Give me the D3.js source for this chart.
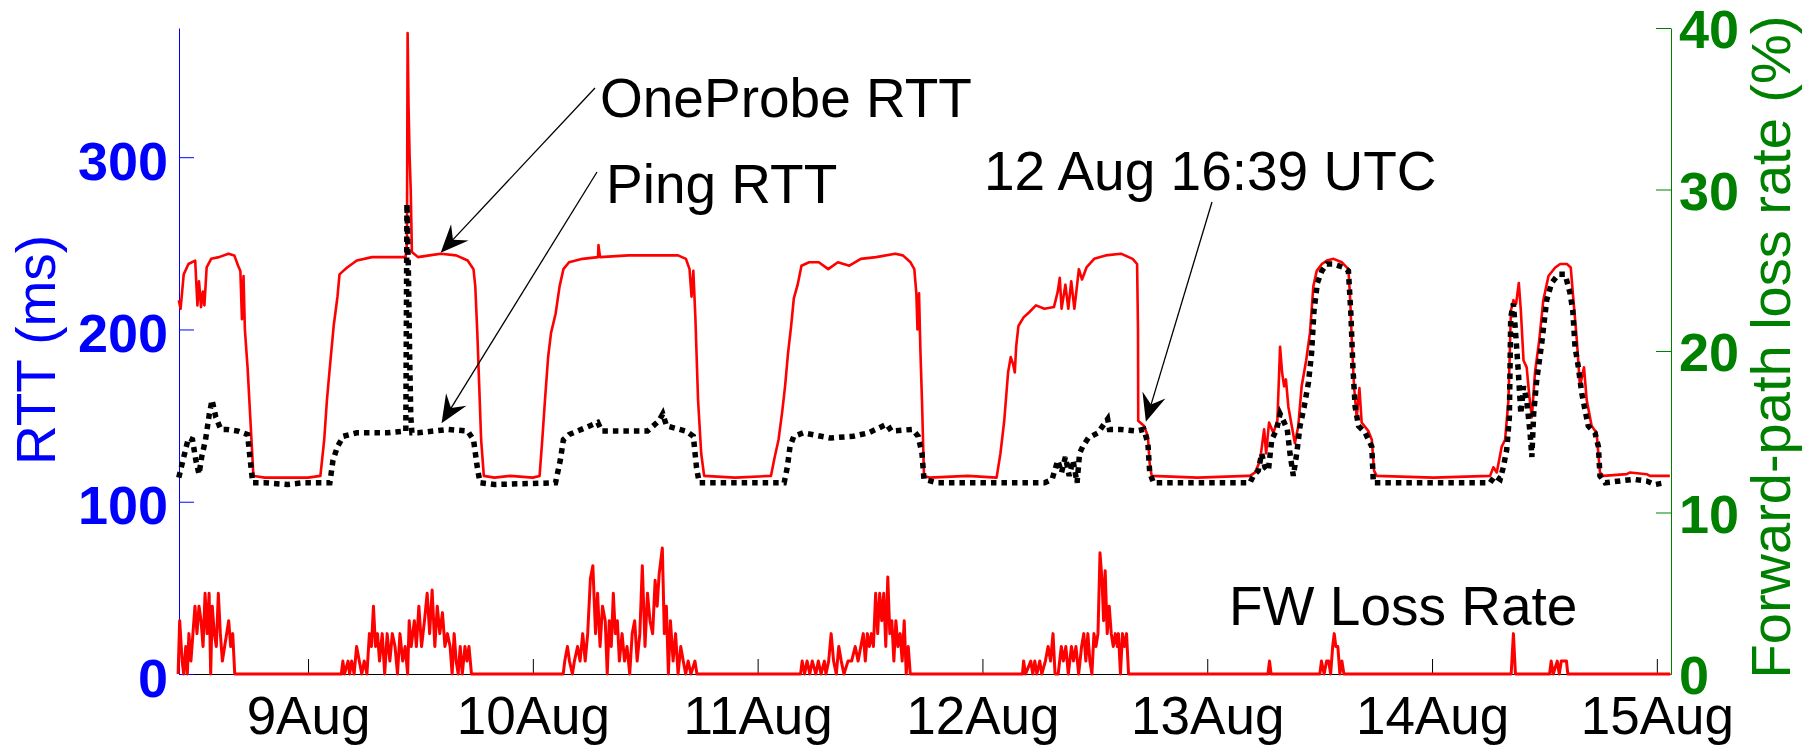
<!DOCTYPE html>
<html>
<head>
  <meta charset="utf-8">
  <title>OneProbe vs Ping RTT</title>
<script src="https://d3js.org/d3.v7.min.js"></script>
  <style>
    body { margin: 0; background: #fff; }
    svg { display: block; font-family: "Liberation Sans", Arial, sans-serif; }
    .rtt { fill: none; stroke: #ff0000; stroke-width: 2.6px; stroke-linejoin: round; }
    .ping { fill: none; stroke: #000; stroke-width: 5.5px; stroke-dasharray: 5.5 5; }
    .loss { fill: none; stroke: #ff0000; stroke-width: 3px; stroke-linejoin: round; }
    .note { font-size: 55px; fill: #000; }
  </style>
</head>
<body>
  <script>
    // time is day of August (decimal), RTT in ms, loss in %
    const oneProbe = [[8.425,217],[8.433,212],[8.447,232],[8.468,238],[8.498,240],[8.508,214],[8.515,228],[8.524,213],[8.532,222],[8.539,214],[8.549,236],[8.569,241],[8.604,242],[8.646,244],[8.672,243],[8.689,237],[8.699,234],[8.706,206],[8.713,231],[8.719,200],[8.731,178],[8.743,149],[8.757,115],[8.808,114],[8.9,114],[9.0,114],[9.055,115],[9.072,136],[9.084,159],[9.097,178],[9.114,202],[9.131,219],[9.14,232],[9.157,234],[9.174,236],[9.217,240],[9.285,242],[9.387,242],[9.434,242],[9.44,250],[9.443,372],[9.447,330],[9.452,300],[9.457,280],[9.462,245],[9.489,242],[9.54,243],[9.591,244],[9.659,243],[9.71,240],[9.736,235],[9.744,225],[9.753,198],[9.761,169],[9.77,136],[9.782,115],[9.829,114],[9.9,115],[10.0,114],[10.03,115],[10.042,136],[10.054,159],[10.068,184],[10.081,198],[10.101,209],[10.119,225],[10.136,235],[10.161,239],[10.221,241],[10.29,242],[10.292,249],[10.299,242],[10.425,243],[10.55,243],[10.646,243],[10.681,241],[10.697,235],[10.706,219],[10.714,234],[10.723,207],[10.735,159],[10.749,128],[10.762,115],[10.9,114],[11.059,115],[11.076,126],[11.093,136],[11.11,153],[11.122,167],[11.135,186],[11.149,202],[11.161,218],[11.178,226],[11.195,237],[11.229,239],[11.272,239],[11.314,235],[11.357,239],[11.408,237],[11.459,241],[11.527,242],[11.612,244],[11.646,243],[11.68,239],[11.697,235],[11.706,221],[11.711,200],[11.718,221],[11.724,188],[11.731,159],[11.74,115],[11.765,114],[11.935,115],[12.063,114],[12.08,128],[12.097,147],[12.114,175],[12.126,184],[12.136,180],[12.144,175],[12.15,190],[12.16,202],[12.183,207],[12.208,210],[12.238,214],[12.276,212],[12.318,213],[12.335,222],[12.344,230],[12.352,212],[12.369,226],[12.382,212],[12.395,228],[12.409,212],[12.429,235],[12.443,229],[12.463,236],[12.497,241],[12.548,243],[12.616,244],[12.668,241],[12.688,238],[12.692,200],[12.693,147],[12.719,144],[12.736,138],[12.744,122],[12.753,115],[12.957,114],[13.178,115],[13.19,115],[13.213,117],[13.235,124],[13.253,142],[13.262,128],[13.275,146],[13.294,140],[13.312,147],[13.324,190],[13.333,175],[13.342,167],[13.35,171],[13.361,155],[13.376,144],[13.39,134],[13.405,144],[13.42,167],[13.44,182],[13.457,198],[13.472,225],[13.487,234],[13.51,238],[13.532,240],[13.562,241],[13.599,239],[13.628,235],[13.636,217],[13.643,194],[13.653,167],[13.665,149],[13.677,166],[13.687,146],[13.717,141],[13.732,136],[13.742,118],[13.754,115],[14.006,114],[14.258,115],[14.273,120],[14.288,117],[14.31,132],[14.325,136],[14.34,159],[14.351,211],[14.362,217],[14.374,215],[14.386,227],[14.395,211],[14.407,182],[14.421,178],[14.433,161],[14.444,149],[14.458,175],[14.477,194],[14.495,217],[14.518,231],[14.548,236],[14.57,238],[14.6,238],[14.617,236],[14.629,217],[14.644,194],[14.658,167],[14.676,178],[14.688,159],[14.71,144],[14.732,140],[14.747,117],[14.762,115],[14.866,116],[14.881,117],[14.955,116],[14.969,115],[15.058,115]];

    const ping = [[8.425,114],[8.451,128],[8.468,137],[8.486,136],[8.501,124],[8.515,116],[8.527,126],[8.544,136],[8.561,151],[8.573,159],[8.59,149],[8.612,142],[8.637,142],[8.689,141],[8.731,139],[8.743,124],[8.754,111],[8.808,111],[8.91,110],[8.978,111],[9.097,111],[9.111,124],[9.131,132],[9.157,138],[9.217,140],[9.353,140],[9.429,141],[9.435,141],[9.44,273],[9.447,230],[9.452,185],[9.457,150],[9.462,140],[9.489,140],[9.625,142],[9.71,141],[9.736,136],[9.753,120],[9.765,111],[9.829,110],[10.101,111],[10.122,124],[10.136,136],[10.161,139],[10.289,146],[10.306,141],[10.51,141],[10.561,147],[10.578,151],[10.595,144],[10.681,141],[10.714,138],[10.728,120],[10.74,111],[10.966,111],[11.118,111],[11.132,120],[11.144,132],[11.161,138],[11.203,140],[11.323,137],[11.425,138],[11.493,140],[11.575,145],[11.595,141],[11.689,142],[11.714,138],[11.731,128],[11.74,113],[11.799,111],[12.276,111],[12.31,113],[12.335,124],[12.352,117],[12.369,126],[12.386,115],[12.403,124],[12.421,111],[12.432,128],[12.446,132],[12.471,137],[12.514,140],[12.557,148],[12.565,142],[12.616,142],[12.685,141],[12.718,142],[12.736,134],[12.744,117],[12.761,111],[13.19,111],[13.205,115],[13.227,118],[13.242,128],[13.257,120],[13.272,118],[13.287,136],[13.309,142],[13.324,151],[13.339,147],[13.356,142],[13.368,128],[13.383,115],[13.398,128],[13.413,144],[13.431,155],[13.45,169],[13.464,186],[13.475,211],[13.49,227],[13.51,234],[13.532,238],[13.562,238],[13.606,236],[13.628,234],[13.639,209],[13.648,178],[13.658,155],[13.673,144],[13.703,140],[13.732,132],[13.739,111],[14.258,111],[14.28,115],[14.303,113],[14.317,120],[14.332,130],[14.344,149],[14.35,207],[14.362,215],[14.374,194],[14.385,173],[14.395,151],[14.407,167],[14.421,159],[14.436,140],[14.444,126],[14.452,151],[14.466,171],[14.488,192],[14.51,217],[14.532,227],[14.562,232],[14.592,232],[14.614,221],[14.626,211],[14.636,190],[14.651,178],[14.666,163],[14.681,153],[14.695,144],[14.725,140],[14.74,132],[14.747,115],[14.77,111],[14.896,113],[14.955,112],[14.992,110],[15.036,111]];

    const fwLoss = [[8.422,0],[8.429,3.3],[8.44,0.8],[8.447,0],[8.456,1.7],[8.463,0],[8.47,2.5],[8.479,0.8],[8.488,2.5],[8.497,4.2],[8.506,2.5],[8.515,4.2],[8.524,3.3],[8.533,1.7],[8.542,5],[8.551,2.5],[8.56,5],[8.567,0],[8.574,4.2],[8.583,2.5],[8.592,1.7],[8.601,5],[8.61,2.5],[8.619,0.8],[8.629,1.7],[8.638,2.5],[8.647,3.3],[8.656,1.7],[8.665,2.5],[8.674,0],
      [9.148,0],[9.155,0.8],[9.162,0],[9.178,0.8],[9.185,0],[9.194,0.8],[9.205,0],[9.216,1.7],[9.228,0.8],[9.239,0],[9.25,0.8],[9.262,0],[9.273,2.5],[9.282,1.7],[9.291,4.2],[9.3,1.7],[9.309,2.5],[9.318,0.8],[9.33,2.5],[9.341,0],[9.352,2.5],[9.364,0.8],[9.375,2.5],[9.387,1.7],[9.398,0],[9.409,2.5],[9.421,0.8],[9.432,1.7],[9.443,0],[9.45,3.3],[9.459,1.7],[9.473,3.3],[9.482,1.7],[9.493,4.2],[9.505,1.7],[9.518,3.3],[9.53,5],[9.541,2.5],[9.552,5.2],[9.564,1.7],[9.575,4.2],[9.586,2.5],[9.598,3.8],[9.609,1.7],[9.62,2.5],[9.632,1.7],[9.641,0],[9.65,2.5],[9.659,0.8],[9.668,0],[9.677,1.7],[9.686,0],[9.698,1.7],[9.707,0.8],[9.716,1.7],[9.727,0],
      [10.135,0],[10.142,0.8],[10.154,1.7],[10.163,0.8],[10.176,0],[10.185,0.8],[10.199,1.7],[10.21,0.8],[10.222,2.5],[10.233,0.8],[10.244,2.5],[10.256,5.9],[10.267,6.7],[10.279,2.5],[10.288,5],[10.299,1.7],[10.31,4.2],[10.322,3.3],[10.331,0],[10.34,3.3],[10.349,1.7],[10.358,5],[10.367,2.5],[10.376,3.3],[10.385,0.8],[10.397,2.5],[10.408,0.8],[10.419,1.7],[10.431,0],[10.442,2.5],[10.453,3.3],[10.464,0.8],[10.476,2.5],[10.487,6.7],[10.499,1.7],[10.51,5],[10.521,3.3],[10.533,2.5],[10.544,5.8],[10.553,4.2],[10.562,6.2],[10.576,7.8],[10.585,2.5],[10.594,4.2],[10.603,0],[10.612,3.3],[10.624,0.8],[10.635,2.5],[10.646,0],[10.658,1.7],[10.669,0.8],[10.68,0],[10.691,0.8],[10.703,0],[10.721,0.8],[10.73,0],
      [11.191,0],[11.198,0.8],[11.209,0],[11.22,0.8],[11.232,0],[11.243,0.8],[11.259,0],[11.27,0.8],[11.282,0],[11.297,0.8],[11.304,0],[11.316,0.8],[11.327,2.5],[11.338,0.8],[11.35,0],[11.361,1.7],[11.372,0.8],[11.384,0],[11.402,0.8],[11.418,0.8],[11.434,1.7],[11.447,0.8],[11.459,1.7],[11.47,2.5],[11.479,0.8],[11.488,2.5],[11.497,1.7],[11.506,2.5],[11.515,1.7],[11.525,5],[11.534,2.5],[11.543,5],[11.552,3.3],[11.561,5],[11.57,1.7],[11.579,6],[11.588,2.5],[11.597,3.3],[11.606,0.8],[11.615,3.3],[11.624,1.7],[11.634,2.5],[11.643,0.8],[11.652,3.3],[11.661,0],[11.67,1.7],[11.679,0],
      [12.178,0],[12.183,0.8],[12.192,0],[12.215,0.8],[12.224,0],[12.233,0.8],[12.242,0],[12.255,0.8],[12.264,0],[12.28,0.8],[12.292,1.7],[12.303,0.8],[12.314,2.5],[12.323,0],[12.337,0],[12.351,1.7],[12.36,0.8],[12.371,1.7],[12.382,0],[12.396,1.7],[12.405,0.8],[12.416,1.7],[12.428,0],[12.441,1.7],[12.451,2.5],[12.46,0.8],[12.469,2.5],[12.478,0.8],[12.487,0],[12.496,2.5],[12.505,1.7],[12.514,2.5],[12.523,7.5],[12.532,5.8],[12.539,3.3],[12.546,6.4],[12.555,2.5],[12.564,4.2],[12.573,2.5],[12.582,1.7],[12.591,2.5],[12.6,1.7],[12.605,2.5],[12.614,0],[12.623,2.5],[12.632,1.7],[12.641,2.5],[12.65,0],
      [13.27,0],[13.277,0.8],[13.284,0],
      [13.501,0],[13.508,0.8],[13.52,0],[13.531,0.8],[13.54,0.8],[13.549,0],[13.558,1.7],[13.565,2.5],[13.572,1.7],[13.581,1.7],[13.59,0],[13.599,0.8],[13.608,0],
      [14.352,0],[14.362,2.5],[14.371,0],
      [14.523,0],[14.53,0.8],[14.539,0],[14.557,0.8],[14.566,0],[14.575,0.8],[14.584,0.8],[14.598,0.8],[14.604,0],[15.06,0]];

    const dayTicks = [9, 10, 11, 12, 13, 14, 15];
    const rttTicks = [0, 100, 200, 300];
    const lossTicks = [0, 10, 20, 30, 40];

    // text + arrow: tail in page px, tip in data (day, rtt)
    const notes = [
      { label: "OneProbe RTT", tx: 600, ty: 117, from: [595, 88], to: [9.59, 244.5] },
      { label: "Ping RTT", tx: 606, ty: 203, from: [597, 172], to: [9.594, 145.5] },
      { label: "12 Aug 16:39 UTC", tx: 984, ty: 190, from: [1212, 202], to: [12.727, 146.4] }
    ];

    const margin = { top: 28, right: 148, bottom: 74, left: 179 };
    const W = 1819, H = 748;
    const width = W - margin.left - margin.right;
    const height = H - margin.top - margin.bottom;

    const x = d3.scaleLinear().domain([8.426, 15.063]).range([0, width]);
    const yRtt = d3.scaleLinear().domain([0, 375]).range([height, 0]);
    const yLoss = d3.scaleLinear().domain([0, 40]).range([height, 0]);

    const svg = d3.select("body").append("svg")
        .attr("width", W)
        .attr("height", H);

    const g = svg.append("g")
        .attr("transform", "translate(" + margin.left + "," + margin.top + ")");

    // x axis (ticks point up)
    const xAxis = g.append("g")
        .attr("transform", "translate(0," + height + ")")
        .call(d3.axisBottom(x).tickValues(dayTicks).tickFormat(d => d + "Aug")
          .tickSizeInner(-15).tickSizeOuter(0).tickPadding(22));
    xAxis.select(".domain").attr("stroke", "#000");
    xAxis.selectAll(".tick line").attr("stroke", "#000");
    xAxis.selectAll("text")
        .attr("fill", "#000")
        .style("font-size", "53px")
        .style("font-family", "Liberation Sans, Arial, sans-serif");

    // left axis
    const yl = g.append("g")
        .call(d3.axisLeft(yRtt).tickValues(rttTicks).tickSizeInner(-15).tickSizeOuter(0).tickPadding(11));
    yl.selectAll("path, line").attr("stroke", "#0000ff");
    yl.selectAll("text")
        .attr("fill", "#0000ff")
        .attr("dy", "0.41em")
        .style("font-size", "54px")
        .style("font-weight", "bold")
        .style("font-family", "Liberation Sans, Arial, sans-serif");

    // right axis
    const yr = g.append("g")
        .attr("transform", "translate(" + width + ",0)")
        .call(d3.axisRight(yLoss).tickValues(lossTicks).tickSizeInner(-15).tickSizeOuter(0).tickPadding(8));
    yr.selectAll("path, line").attr("stroke", "#008000");
    yr.selectAll("text")
        .attr("fill", "#008000")
        .attr("dy", "0.37em")
        .style("font-size", "54px")
        .style("font-weight", "bold")
        .style("font-family", "Liberation Sans, Arial, sans-serif");

    // axis titles
    svg.append("text")
        .attr("transform", "translate(55,350) rotate(-90)")
        .attr("text-anchor", "middle")
        .attr("fill", "#0000ff")
        .style("font-size", "55px")
        .text("RTT (ms)");

    svg.append("text")
        .attr("transform", "translate(1790,347) rotate(-90)")
        .attr("text-anchor", "middle")
        .attr("fill", "#008000")
        .style("font-size", "56px")
        .text("Forward-path loss rate (%)");

    // series
    const rttLine = d3.line().x(d => x(d[0])).y(d => yRtt(d[1]));
    const lossLine = d3.line().x(d => x(d[0])).y(d => yLoss(d[1]));

    g.append("path").datum(fwLoss).attr("class", "loss").attr("d", lossLine);
    g.append("path").datum(oneProbe).attr("class", "rtt").attr("d", rttLine);
    g.append("path").datum(ping).attr("class", "ping").attr("d", rttLine);

    // annotations
    const ann = svg.append("g");
    notes.forEach(n => {
      const tip = [margin.left + x(n.to[0]), margin.top + yRtt(n.to[1])];
      const dx = n.from[0] - tip[0], dy = n.from[1] - tip[1];
      const len = Math.hypot(dx, dy);
      const ux = dx / len, uy = dy / len;
      const nx = -uy, ny = ux;
      const L = 28, Wd = 12, N = 18;
      ann.append("line")
          .attr("x1", n.from[0]).attr("y1", n.from[1])
          .attr("x2", tip[0] + ux * N).attr("y2", tip[1] + uy * N)
          .attr("stroke", "#000").attr("stroke-width", 1.3);
      const head = [
        tip,
        [tip[0] + ux * L + nx * Wd, tip[1] + uy * L + ny * Wd],
        [tip[0] + ux * N, tip[1] + uy * N],
        [tip[0] + ux * L - nx * Wd, tip[1] + uy * L - ny * Wd]
      ];
      ann.append("path")
          .attr("d", "M" + head.map(p => p.join(",")).join("L") + "Z")
          .attr("fill", "#000");
      ann.append("text")
          .attr("class", "note")
          .attr("x", n.tx).attr("y", n.ty)
          .text(n.label);
    });

    svg.append("text")
        .attr("class", "note")
        .attr("x", 1229).attr("y", 625)
        .text("FW Loss Rate");
  </script>
</body>
</html>
